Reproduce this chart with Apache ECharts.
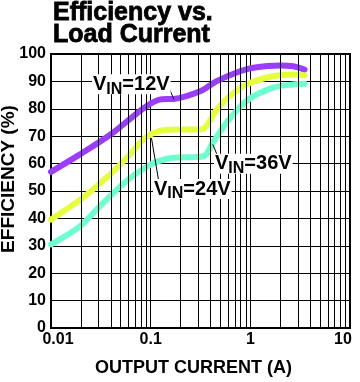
<!DOCTYPE html>
<html>
<head>
<meta charset="utf-8">
<script src="https://cdn.jsdelivr.net/npm/echarts@6/dist/echarts.min.js"></script>
<style>
html,body{margin:0;padding:0;background:#fff;}
#c{width:360px;height:382px;}
</style>
</head>
<body>
<div id="c"></div>
<script>
// ---- data ----
const current12 = [0.01, 0.0188, 0.0406, 0.0877, 0.129, 0.169, 0.313, 0.46, 0.787, 1.07, 1.98, 2.7, 3.5];
const eff12     = [57,   63,     70.9,   80.6,   83.5,  83.6,  86.4,  90.1, 93.7,  95,   95.8, 95.5, 94.3];

const current24 = [0.01, 0.0188, 0.0276, 0.0406, 0.0597, 0.0877, 0.12, 0.169, 0.313, 0.36, 0.46, 0.62, 0.91, 1.68, 2.7, 3.5];
const eff24     = [39.6, 46.3,   51.2,   56.6,   62.7,   69.4,   71.8, 72.4,  72.4,  73.6, 79.7, 84.6, 88.9, 91.9, 92.5, 92.2];

const current36 = [0.01, 0.0188, 0.0276, 0.0406, 0.0597, 0.0877, 0.12, 0.169, 0.34, 0.42, 0.575, 0.91, 1.68, 2.7, 3.5];
const eff36     = [30.5, 36.6,   42.6,   48.7,   54.2,   58.5,   60.9, 62.1,  62.7, 67.6, 74.9,  82.8, 87.7, 88.9, 89.1];

const seriesNames = ['12V', '24V', '36V'];
const xTickLabels = ['0.01', '0.1', '1', '10'];
const xMinorTicks = [0.02,0.03,0.04,0.05,0.06,0.07,0.08,0.09,
                     0.2,0.3,0.4,0.5,0.6,0.7,0.8,0.9,
                     2,3,4,5,6,7,8,9];
// annotation anchors (data coords): label left-middle, leader line ends
const labelAnchor12 = [0.0258, 89.0];
const labelAnchor24 = [0.1055, 50.7];
const labelAnchor36 = [0.432, 59.9];
const leader12 = [[0.149, 88.5], [0.1714, 83.4]];
const leader24 = [[0.1019, 69.3], [0.1197, 54.2]];
const leader36 = [[0.42, 67.0], [0.463, 63.3]];

// ---- styles ----
const colors = ['#9c3cff', '#e6ff3a', '#6cffd2'];
const FONT = '"Liberation Sans", Arial, Helvetica, sans-serif';

function zip(xs, ys) { return xs.map((x, i) => [x, ys[i]]); }

const richLabel = {
  v: {fontSize: 20, fontWeight: 'bold', fontFamily: FONT, color: '#000', lineHeight: 20, verticalAlign: 'top'},
  s: {fontSize: 16, fontWeight: 'bold', fontFamily: FONT, color: '#000', lineHeight: 16, padding: [7, 0, 0, 0], verticalAlign: 'top'}
};

function annot(anchor, volt, leader) {
  return {
    markPoint: {
      silent: true,
      symbol: 'rect', symbolSize: 0,
      data: [{coord: anchor}],
      label: {
        show: true, position: 'right', distance: 0,
        formatter: '{v|V}{s|IN}{v|=' + volt + '}',
        rich: richLabel,
        backgroundColor: '#fff',
        padding: [0, 1, 0, 1]
      }
    },
    markLine: {
      silent: true, symbol: 'none',
      lineStyle: {color: '#000', width: 1, type: 'solid'},
      label: {show: false},
      data: [[{coord: leader[0]}, {coord: leader[1]}]]
    }
  };
}

const chart = echarts.init(document.getElementById('c'), null, {renderer: 'canvas'});

const lineSeries = [
  [current12, eff12, labelAnchor12, leader12],
  [current24, eff24, labelAnchor24, leader24],
  [current36, eff36, labelAnchor36, leader36]
].map((d, i) => Object.assign({
  name: seriesNames[i],
  type: 'line',
  data: zip(d[0], d[1]),
  smooth: 0.3,
  symbol: 'none',
  lineStyle: {color: colors[i], width: 6, cap: 'round', join: 'round'},
  z: 3
}, annot(d[2], seriesNames[i], d[3])));

// minor vertical grid lines through the log scale
lineSeries.push({
  type: 'line', data: [], silent: true, z: 1,
  markLine: {
    silent: true, symbol: 'none', animation: false,
    lineStyle: {color: '#000', width: 1, type: 'solid'},
    label: {show: false},
    data: xMinorTicks.map(v => ({xAxis: v}))
  }
});

chart.setOption({
  animation: false,
  backgroundColor: '#fff',
  title: {
    text: 'Efficiency vs.\nLoad Current',
    left: 53, top: 2, padding: 0,
    textStyle: {fontSize: 25, fontWeight: 'bold', fontFamily: FONT, color: '#000', lineHeight: 22,
      textBorderColor: '#000', textBorderWidth: 0.8}
  },
  grid: {left: 51, right: 10, top: 54, bottom: 54, outerBoundsMode: 'none', containLabel: false,
    show: true, borderColor: '#000', borderWidth: 2, backgroundColor: 'transparent'},
  xAxis: {
    type: 'log', logBase: 10, min: 0.01, max: 10,
    name: 'OUTPUT CURRENT (A)', nameLocation: 'middle', nameGap: 31, nameMoveOverlap: false,
    nameTextStyle: {fontSize: 18, fontWeight: 'bold', fontFamily: FONT, color: '#000', padding: [0, 14, 0, 0]},
    axisLine: {show: true, lineStyle: {color: '#000', width: 2}},
    axisTick: {show: false},
    splitLine: {show: true, lineStyle: {color: '#000', width: 1}},
    axisLabel: {
      color: '#000', fontSize: 16, fontWeight: 'bold', fontFamily: FONT, margin: 4,
      showMinLabel: true, showMaxLabel: true,
      formatter: function (v) {
        const k = Math.round(Math.log10(v)) + 2;
        if (k === 0) return '{a|' + xTickLabels[0] + '}';
        if (k === xTickLabels.length - 1) return '{b|' + xTickLabels[k] + '}';
        return xTickLabels[k];
      },
      rich: {
        a: {fontSize: 16, fontWeight: 'bold', fontFamily: FONT, color: '#000', padding: [0, 0, 0, 14]},
        b: {fontSize: 16, fontWeight: 'bold', fontFamily: FONT, color: '#000', padding: [0, 14, 0, 0]}
      }
    }
  },
  yAxis: {
    type: 'value', min: 0, max: 100, interval: 10,
    name: 'EFFICIENCY (%)', nameLocation: 'middle', nameGap: 33, nameRotate: 90, nameMoveOverlap: false,
    nameTextStyle: {fontSize: 19, fontWeight: 'bold', fontFamily: FONT, color: '#000', padding: [0, 0, 0, 24]},
    axisLine: {show: true, lineStyle: {color: '#000', width: 2}},
    axisTick: {show: false},
    splitLine: {show: true, lineStyle: {color: '#000', width: 1}},
    axisLabel: {color: '#000', fontSize: 16, fontWeight: 'bold', fontFamily: FONT, margin: 5}
  },
  series: lineSeries
});
</script>
</body>
</html>
